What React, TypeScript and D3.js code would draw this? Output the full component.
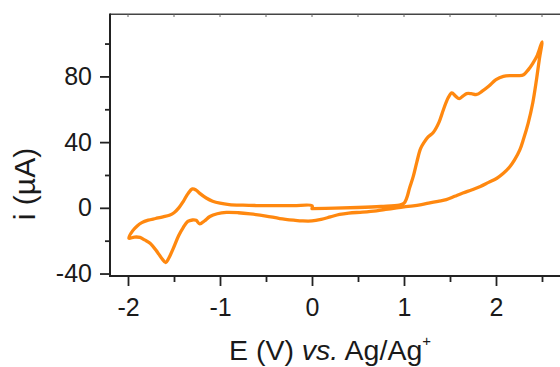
import React, { useEffect, useRef } from 'react';
import * as d3 from 'd3';

// cyclic voltammogram, traced in scan order (start at 0 V, anodic first)
const potential = [
  0.0, 0.25, 0.5, 0.75, 0.95, 1.0, 1.03, 1.06, 1.1, 1.14, 1.18, 1.22, 1.26, 1.32, 1.38, 1.43, 1.48, 1.52, 1.56,
  1.6, 1.64, 1.68, 1.73, 1.79, 1.85, 1.92, 2.0, 2.08, 2.16, 2.24, 2.3, 2.35, 2.4, 2.45, 2.5,
  2.47, 2.44, 2.4, 2.35, 2.3, 2.26, 2.2, 2.15, 2.08, 2.01, 1.92, 1.83, 1.74, 1.64, 1.55, 1.46, 1.37, 1.28, 1.19,
  1.1, 1.0, 0.92, 0.8, 0.7, 0.55, 0.4, 0.3, 0.2, 0.1, 0.0, -0.1, -0.2, -0.35, -0.5, -0.67, -0.8, -0.93, -1.03,
  -1.11, -1.17, -1.22, -1.26, -1.3, -1.35, -1.4, -1.45, -1.51, -1.56, -1.59, -1.63, -1.68, -1.76, -1.82, -1.87,
  -1.93, -1.99,
  -1.95, -1.9, -1.85, -1.78, -1.7, -1.62, -1.55, -1.5, -1.45, -1.4, -1.35, -1.3, -1.26, -1.22, -1.15, -1.08,
  -1.0, -0.9, -0.75, -0.6, -0.4, -0.2, 0.0, 0.0,
];
const current = [
  -0.5, -0.2, 0.2, 0.8, 1.6, 2.8, 6, 12, 19, 28, 36, 40, 43, 46, 52, 60, 67, 70, 68,
  66.5, 68, 69.5, 69.5, 69, 71, 74, 78, 80, 80.5, 80.5, 81, 84, 88, 93, 101,
  90, 78, 64, 51.6, 42, 35.4, 29, 25, 21, 18, 15.5, 13, 11, 9, 7, 5, 4, 3, 2,
  1.2, 0.6, 0, -1, -1.8, -2.6, -3.2, -4, -5.5, -7, -8, -8, -7.5, -6.5, -5, -3.7, -3, -2.8, -3.6,
  -5.3, -8, -9.8, -7.6, -7.4, -8.3, -12, -17, -25, -31, -33.3, -31, -27, -21.5, -19.5, -18,
  -17.8, -18.5,
  -14, -11, -9, -7.5, -6.5, -5.5, -4.5, -3, -0.2, 3.8, 8.5, 11.5, 10.8, 8.8, 6, 4,
  2.8, 2, 1.6, 1.4, 1.3, 1.3, 1.3, -0.5,
];

const majorX = [-2, -1, 0, 1, 2];
const minorX = [-1.5, -0.5, 0.5, 1.5, 2.5];
const majorY = [-40, 0, 40, 80];
const minorY = [-20, 20, 60, 100];

const W = 560;
const H = 367;
const FONT = '"Liberation Sans", Arial, sans-serif';

const App = () => {
  const svgRef = useRef(null);

  useEffect(() => {
    const svg = d3.select(svgRef.current);
    svg.selectAll('*').remove();

    const x = d3.scaleLinear().domain([-2.2, 2.7]).range([109.6, 560.4]);
    const y = d3.scaleLinear().domain([-41.5, 118]).range([276, 14]);

    const pts = potential.map((e, k) => [e, current[k]]);

    // curve
    const line = d3.line()
      .x(d => x(d[0]))
      .y(d => y(d[1]))
      .curve(d3.curveCatmullRom.alpha(0.5));

    svg.append('path')
      .datum(pts)
      .attr('d', line)
      .attr('fill', 'none')
      .attr('stroke', '#ff880f')
      .attr('stroke-width', 3.3)
      .attr('stroke-linejoin', 'round')
      .attr('stroke-linecap', 'round');

    // top frame line with small inward ticks
    svg.append('line')
      .attr('x1', 110).attr('x2', W)
      .attr('y1', 14.3).attr('y2', 14.3)
      .attr('stroke', '#444').attr('stroke-width', 1.6);
    svg.append('g')
      .selectAll('line')
      .data(majorX.concat(minorX))
      .enter()
      .append('line')
      .attr('x1', d => x(d)).attr('x2', d => x(d))
      .attr('y1', 14.3).attr('y2', 17)
      .attr('stroke', '#666').attr('stroke-width', 1);

    // bottom axis
    const gx = svg.append('g').attr('transform', 'translate(0,276)');
    gx.call(d3.axisBottom(x).tickValues(majorX).tickSize(10).tickPadding(12)
      .tickFormat(d => String(d)));
    gx.call(g => g.select('.domain').remove());
    const gx2 = svg.append('g').attr('transform', 'translate(0,276)');
    gx2.call(d3.axisBottom(x).tickValues(minorX).tickSize(6).tickFormat(() => ''));
    gx2.call(g => g.select('.domain').remove());

    // left axis
    const gy = svg.append('g').attr('transform', 'translate(110,0)');
    gy.call(d3.axisLeft(y).tickValues(majorY).tickSize(10).tickPadding(8)
      .tickFormat(d => String(d)));
    gy.call(g => g.select('.domain').remove());
    const gy2 = svg.append('g').attr('transform', 'translate(110,0)');
    gy2.call(d3.axisLeft(y).tickValues(minorY).tickSize(5).tickFormat(() => ''));
    gy2.call(g => g.select('.domain').remove());

    svg.selectAll('.tick line').attr('stroke', '#222').attr('stroke-width', 1.8);
    svg.selectAll('.tick text')
      .style('font-family', FONT)
      .style('font-size', '25px')
      .attr('fill', '#1a1a1a');

    svg.append('line')
      .attr('x1', 110).attr('x2', W)
      .attr('y1', 276).attr('y2', 276)
      .attr('stroke', '#222').attr('stroke-width', 2);
    svg.append('line')
      .attr('x1', 110).attr('x2', 110)
      .attr('y1', 13.5).attr('y2', 277)
      .attr('stroke', '#222').attr('stroke-width', 2);

    // axis titles
    const xt = svg.append('text')
      .attr('x', 229)
      .attr('y', 360)
      .style('font-family', FONT)
      .style('font-size', '28.5px')
      .attr('fill', '#1a1a1a');
    xt.append('tspan').text('E (V) ');
    xt.append('tspan').style('font-style', 'italic').text('vs.');
    xt.append('tspan').text(' Ag/Ag');
    xt.append('tspan').attr('dy', -14).style('font-size', '15px').text('+');

    svg.append('text')
      .attr('transform', 'translate(35,184) rotate(-90)')
      .attr('text-anchor', 'middle')
      .style('font-family', FONT)
      .style('font-size', '30px')
      .attr('fill', '#1a1a1a')
      .text('i (\u00b5A)');
  }, []);

  return (
    <svg
      ref={svgRef}
      width={W}
      height={H}
      style={{ position: 'absolute', left: 0, top: 0, background: '#fff' }}
    />
  );
};

export default App;
